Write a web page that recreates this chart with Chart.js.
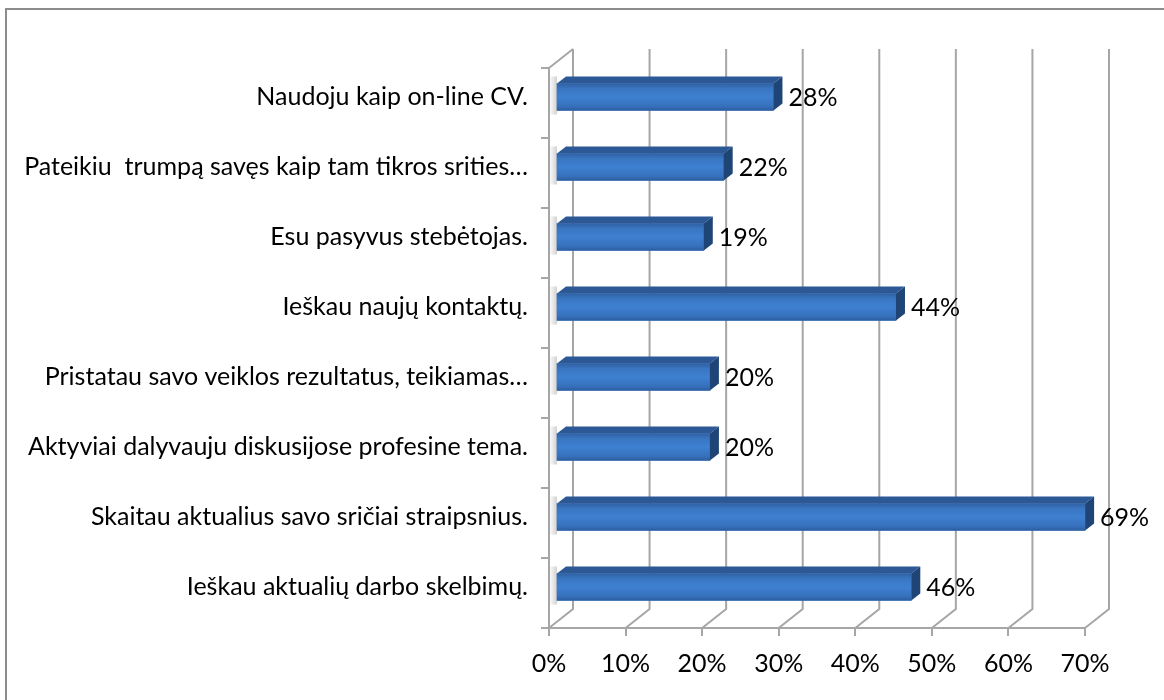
<!DOCTYPE html>
<html>
<head>
<meta charset="utf-8">
<script src="https://cdn.jsdelivr.net/npm/chart.js@4.4.1/dist/chart.umd.min.js"></script>
<style>
  html, body { margin: 0; padding: 0; background: #fff; }
  #wrap { width: 1164px; height: 700px; }
</style>
</head>
<body>
<div id="wrap"><canvas id="chart" width="1164" height="700"></canvas></div>
<script>
const categories = [
  'Naudoju kaip on-line CV.',
  'Pateikiu  trumpą savęs kaip tam tikros srities…',
  'Esu pasyvus stebėtojas.',
  'Ieškau naujų kontaktų.',
  'Pristatau savo veiklos rezultatus, teikiamas…',
  'Aktyviai dalyvauju diskusijose profesine tema.',
  'Skaitau aktualius savo sričiai straipsnius.',
  'Ieškau aktualių darbo skelbimų.',
];
const shares = [28.4, 21.9, 19.3, 44.4, 20.1, 20.1, 69.1, 46.4];
const axisMin = 0;
const axisMax = 70;
const axisStep = 10;

const FONT = { family: 'Lato, "Liberation Sans", sans-serif', size: 25 };
const GRID = '#a6a6a6';
const DEPTH = { x: 24, y: -19 };   // back wall offset
const BAR_SHIFT = { x: 7, y: -6 }; // bars sit a bit inside the box
const BAR_DX = 9;
const BAR_DY = 7;

// 3d box, bar faces and value labels
const boxPlugin = {
  id: 'box3d',
  beforeDraw(chart) {
    const ctx = chart.ctx;
    ctx.save();
    ctx.strokeStyle = '#8c8c8c';
    ctx.lineWidth = 2;
    ctx.beginPath();
    ctx.moveTo(6, 700);
    ctx.lineTo(6, 9);
    ctx.lineTo(1164, 9);
    ctx.stroke();
    ctx.restore();
  },
  beforeDatasetsDraw(chart) {
    const { ctx, chartArea: a, scales: { x } } = chart;
    ctx.save();
    ctx.strokeStyle = GRID;
    ctx.lineWidth = 2;
    ctx.beginPath();
    for (let v = axisMin; v <= axisMax; v += axisStep) {
      const px = x.getPixelForValue(v);
      ctx.moveTo(px, a.bottom);
      ctx.lineTo(px + DEPTH.x, a.bottom + DEPTH.y);
      ctx.lineTo(px + DEPTH.x, a.top + DEPTH.y);
    }
    ctx.moveTo(a.left, a.top);
    ctx.lineTo(a.left + DEPTH.x, a.top + DEPTH.y);
    ctx.stroke();
    ctx.restore();

    ctx.save();
    ctx.translate(BAR_SHIFT.x, BAR_SHIFT.y);
  },
  afterDatasetsDraw(chart) {
    const ctx = chart.ctx;
    const bars = chart.getDatasetMeta(0).data;
    bars.forEach(bar => {
      const top = bar.y - bar.height / 2;
      const bottom = bar.y + bar.height / 2;

      // shadow on the left wall
      const sh = ctx.createLinearGradient(bar.base - 8, 0, bar.base, 0);
      sh.addColorStop(0, 'rgba(0,0,0,0)');
      sh.addColorStop(1, 'rgba(0,0,0,0.18)');
      ctx.fillStyle = sh;
      ctx.fillRect(bar.base - 8, top - BAR_DY, 8, bar.height + BAR_DY + 4);

      const g = ctx.createLinearGradient(0, top, 0, bottom);
      g.addColorStop(0, '#2f61a3');
      g.addColorStop(0.2, '#3a76c2');
      g.addColorStop(0.5, '#3e80d1');
      g.addColorStop(0.85, '#3670bb');
      g.addColorStop(1, '#2c5d9e');
      ctx.fillStyle = g;
      ctx.fillRect(bar.base, top, bar.x - bar.base, bar.height);

      ctx.fillStyle = '#2c5896';
      ctx.beginPath();
      ctx.moveTo(bar.base, top);
      ctx.lineTo(bar.x, top);
      ctx.lineTo(bar.x + BAR_DX, top - BAR_DY);
      ctx.lineTo(bar.base + BAR_DX, top - BAR_DY);
      ctx.closePath();
      ctx.fill();

      ctx.fillStyle = '#1f4576';
      ctx.beginPath();
      ctx.moveTo(bar.x, top);
      ctx.lineTo(bar.x + BAR_DX, top - BAR_DY);
      ctx.lineTo(bar.x + BAR_DX, bottom - BAR_DY);
      ctx.lineTo(bar.x, bottom);
      ctx.closePath();
      ctx.fill();
    });
    ctx.restore();

    ctx.save();
    ctx.fillStyle = '#000';
    ctx.font = `${FONT.size}px ${FONT.family}`;
    ctx.textBaseline = 'middle';
    ctx.textAlign = 'left';
    bars.forEach((bar, i) => {
      ctx.fillText(Math.round(shares[i]) + '%', bar.x + BAR_SHIFT.x + BAR_DX + 6, bar.y + BAR_SHIFT.y + 1);
    });
    ctx.restore();
  },
};

new Chart(document.getElementById('chart'), {
  type: 'bar',
  data: {
    labels: categories,
    datasets: [{
      data: shares,
      backgroundColor: '#3a76c2',
      barThickness: 27,
    }],
  },
  options: {
    indexAxis: 'y',
    responsive: false,
    animation: false,
    devicePixelRatio: 1,
    layout: { padding: { top: 68, right: 79, left: 0, bottom: 0 } },
    plugins: {
      legend: { display: false },
      tooltip: { enabled: false },
    },
    scales: {
      x: {
        min: axisMin,
        max: axisMax,
        afterFit: s => { s.height = 72; },
        grid: { drawOnChartArea: false, tickLength: 8, color: GRID, lineWidth: 2 },
        border: { color: GRID, width: 2 },
        ticks: {
          stepSize: axisStep,
          padding: 13,
          color: '#000',
          font: FONT,
          callback: v => v + '%',
        },
      },
      y: {
        afterFit: s => { s.width = 549; },
        grid: { drawOnChartArea: false, tickLength: 8, color: GRID, lineWidth: 2 },
        border: { color: GRID, width: 2 },
        ticks: {
          color: '#000',
          font: FONT,
          padding: 13,
          labelOffset: -6,
          autoSkip: false,
        },
      },
    },
  },
  plugins: [boxPlugin],
});
</script>
</body>
</html>
